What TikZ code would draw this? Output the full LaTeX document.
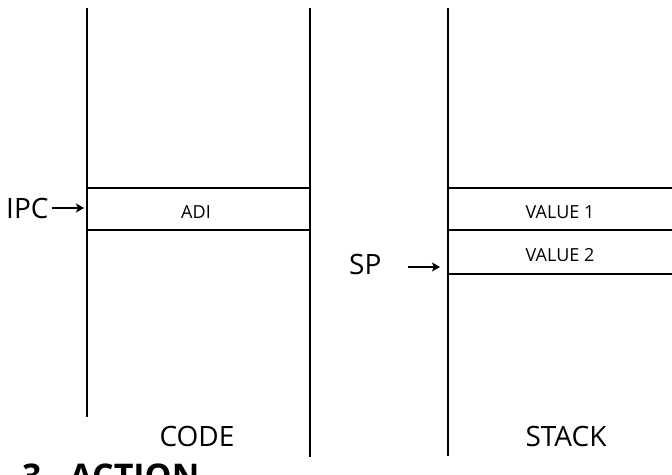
\documentclass[tikz,border=0pt]{standalone}
\usepackage{fontspec}
\setmainfont{Open Sans}
\usetikzlibrary{arrows.meta}
\begin{document}
\begin{tikzpicture}[x=1pt,y=-1pt,
  vline/.style={line width=1.8pt},
  hline/.style={line width=2.6pt},
  biglabel/.style={font=\fontsize{28}{30}\selectfont, inner sep=0pt},
  cell/.style={font=\fontsize{18}{20}\selectfont, inner sep=0pt},
  ptr/.style={line width=2.2pt, -{Stealth[length=8pt,width=9pt,inset=2pt]}}]
\useasboundingbox (0,0) rectangle (672,474);
% columns
\coordinate (cTL) at (87,8);   \coordinate (cBL) at (87,417);
\coordinate (cTR) at (310,8);  \coordinate (cBR) at (310,457);
\coordinate (sTL) at (448,8);  \coordinate (sBL) at (448,456);
\draw[vline] (cTL) -- (cBL);
\draw[vline] (cTR) -- (cBR);
\draw[vline] (sTL) -- (sBL);
% code rows
\coordinate (c1l) at (87,188);  \coordinate (c1r) at (310,188);
\coordinate (c2l) at (87,230);  \coordinate (c2r) at (310,230);
\draw[hline] (c1l) -- (c1r);
\draw[hline] (c2l) -- (c2r);
% stack rows
\coordinate (s1l) at (448,188); \coordinate (s1r) at (672,188);
\coordinate (s2l) at (448,230); \coordinate (s2r) at (672,230);
\coordinate (s3l) at (448,274); \coordinate (s3r) at (672,274);
\draw[hline] (s1l) -- (s1r);
\draw[hline] (s2l) -- (s2r);
\draw[hline] (s3l) -- (s3r);
% cell texts
\node[cell] (adi) at (196,212) {ADI};
\node[cell] (v1) at (560,212) {VALUE 1};
\node[cell] (v2) at (560,255) {VALUE 2};
% pointers
\node[biglabel, anchor=west] (ipc) at (6,208) {IPC};
\coordinate (ipcend) at (84,208);
\draw[ptr] (ipc.east) ++(3,0) -- (ipcend);
\node[biglabel, anchor=west] (sp) at (349,264) {SP};
\coordinate (spstart) at (408,267);
\coordinate (spend) at (440,267);
\draw[ptr] (spstart) -- (spend);
% captions
\node[biglabel] (code) at (197,436) {CODE};
\node[biglabel] (stack) at (566,436) {STACK};
\node[font=\fontsize{34}{36}\selectfont\bfseries, inner sep=0pt, anchor=base west] (act) at (22,488) {3.\hspace{18pt}ACTION};
\end{tikzpicture}
\end{document}
